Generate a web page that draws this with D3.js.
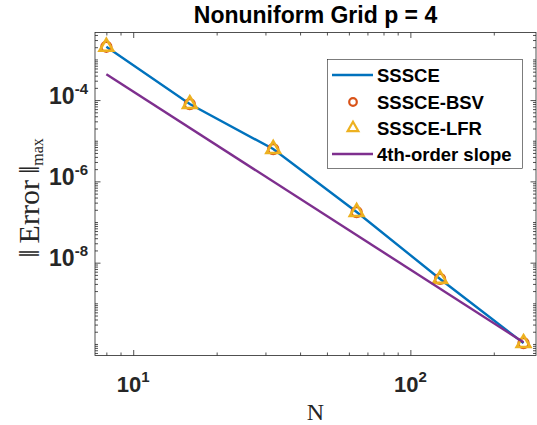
<!DOCTYPE html>
<html>
<head>
<meta charset="utf-8">
<script src="https://cdn.jsdelivr.net/npm/d3@7"></script>
<style>
  body { margin: 0; background: #fff; }
  svg { display: block; }
</style>
</head>
<body>
<script>
// grid sizes and max errors
var nValues = [8, 16, 32, 64, 128, 256];
var sssceErr = [2.05e-3, 7.97e-5, 6.24e-6, 1.76e-7, 3.97e-9, 1.05e-10];
var bsvErr = [2.05e-3, 7.97e-5, 6.24e-6, 1.76e-7, 3.97e-9, 1.05e-10];
var lfrErr = [2.05e-3, 7.97e-5, 6.24e-6, 1.76e-7, 3.97e-9, 1.05e-10];
// reference slope line (two end points)
var slopeN = [8, 256];
var slopeErr = [4.3e-4, 1.1e-10];

var xTickValues = [10, 100];
var xTickExp = ["1", "2"];
var yTickValues = [1e-4, 1e-6, 1e-8];
var yTickExp = ["-4", "-6", "-8"];

var legendNames = ["SSSCE", "SSSCE-BSV", "SSSCE-LFR", "4th-order slope"];

var w = 537;
var h = 425;
const plot = {top: 32.5, bottom: 355.5, left: 95, right: 536};

const colors = {blue: "#0072BD", orange: "#D95319", yellow: "#EDB120", purple: "#7E2F8E", axis: "#262626"};
const sans = "Helvetica, Arial, 'Liberation Sans', sans-serif";
const serif = "'Times New Roman', 'Liberation Serif', serif";

var svg = d3.select("body")
            .append("svg")
            .attr("width", w)
            .attr("height", h);

var xScale = d3.scaleLog()
               .domain([7.28, 284])
               .range([plot.left, plot.right]);

var yScale = d3.scaleLog()
               .domain([5.2e-11, 4.6e-3])
               .range([plot.bottom, plot.top]);

// minor tick positions
var xMinor = [];
[1, 10, 100].forEach(function(d) {
  for (var k = 1; k <= 9; k++) {
    var v = k * d;
    if (v >= 7.28 && v <= 284 && xTickValues.indexOf(v) < 0) xMinor.push(v);
  }
});
var yMinor = [];
for (var e = -11; e <= -3; e++) {
  for (var k = 1; k <= 9; k++) {
    var v = k * Math.pow(10, e);
    var isMajor = (k === 1 && (e === -4 || e === -6 || e === -8));
    if (v >= 5.2e-11 && v <= 4.6e-3 && !isMajor) yMinor.push(v);
  }
}

// draws a set of inward ticks on one side
function addTicks(axisFn, scale, values, size, transform) {
  var g = svg.append("g")
             .attr("transform", transform)
             .call(axisFn(scale).tickValues(values).tickSize(-size).tickSizeOuter(0).tickFormat(""));
  g.select(".domain").remove();
  g.selectAll("line").attr("stroke", colors.axis).attr("stroke-width", 0.8);
}

addTicks(d3.axisBottom, xScale, xMinor, 3, "translate(0," + plot.bottom + ")");
addTicks(d3.axisBottom, xScale, xTickValues, 5.5, "translate(0," + plot.bottom + ")");
addTicks(d3.axisTop, xScale, xMinor, 3, "translate(0," + plot.top + ")");
addTicks(d3.axisTop, xScale, xTickValues, 5.5, "translate(0," + plot.top + ")");
addTicks(d3.axisLeft, yScale, yMinor, 3, "translate(" + plot.left + ",0)");
addTicks(d3.axisLeft, yScale, yTickValues, 5.5, "translate(" + plot.left + ",0)");
addTicks(d3.axisRight, yScale, yMinor, 3, "translate(" + plot.right + ",0)");
addTicks(d3.axisRight, yScale, yTickValues, 5.5, "translate(" + plot.right + ",0)");

// box around plot
svg.append("rect")
   .attr("x", plot.left)
   .attr("y", plot.top)
   .attr("width", plot.right - plot.left)
   .attr("height", plot.bottom - plot.top)
   .attr("fill", "none")
   .attr("stroke", colors.axis)
   .attr("stroke-width", 0.8);

// x tick labels
xTickValues.forEach(function(v, i) {
  var t = svg.append("text")
             .attr("x", xScale(v))
             .attr("y", 392)
             .attr("text-anchor", "middle")
             .attr("font-family", sans)
             .attr("font-weight", "bold")
             .attr("font-size", "22px")
             .attr("fill", colors.axis);
  t.append("tspan").text("10");
  t.append("tspan").attr("dy", -10).attr("font-size", "15px").text(xTickExp[i]);
});

// y tick labels
yTickValues.forEach(function(v, i) {
  var t = svg.append("text")
             .attr("x", 88)
             .attr("y", yScale(v) + 3.5)
             .attr("text-anchor", "end")
             .attr("font-family", sans)
             .attr("font-weight", "bold")
             .attr("font-size", "23px")
             .attr("fill", colors.axis);
  t.append("tspan").text("10");
  t.append("tspan").attr("dy", -10).attr("font-size", "15px").text(yTickExp[i]);
});

// line generator
var line = d3.line()
             .x(function(d) { return xScale(d[0]); })
             .y(function(d) { return yScale(d[1]); });

var sssceData = d3.zip(nValues, sssceErr);
var bsvData = d3.zip(nValues, bsvErr);
var lfrData = d3.zip(nValues, lfrErr);
var slopeData = d3.zip(slopeN, slopeErr);

svg.append("path")
   .datum(sssceData)
   .attr("d", line)
   .attr("fill", "none")
   .attr("stroke", colors.blue)
   .attr("stroke-width", 2.4);

svg.selectAll(".bsv")
   .data(bsvData)
   .enter()
   .append("circle")
   .attr("class", "bsv")
   .attr("cx", function(d) { return xScale(d[0]); })
   .attr("cy", function(d) { return yScale(d[1]); })
   .attr("r", 5)
   .attr("fill", "none")
   .attr("stroke", colors.orange)
   .attr("stroke-width", 2.3);

var tri = d3.symbol().type(d3.symbolTriangle).size(80);

svg.selectAll(".lfr")
   .data(lfrData)
   .enter()
   .append("path")
   .attr("class", "lfr")
   .attr("d", tri)
   .attr("transform", function(d) { return "translate(" + xScale(d[0]) + "," + yScale(d[1]) + ")"; })
   .attr("fill", "none")
   .attr("stroke", colors.yellow)
   .attr("stroke-width", 2.6);

svg.append("path")
   .datum(slopeData)
   .attr("d", line)
   .attr("fill", "none")
   .attr("stroke", colors.purple)
   .attr("stroke-width", 2.4);

// legend
var legend = svg.append("g");
legend.append("rect")
      .attr("x", 327.5)
      .attr("y", 59.5)
      .attr("width", 195)
      .attr("height", 109)
      .attr("fill", "#fff")
      .attr("stroke", colors.axis)
      .attr("stroke-width", 0.6);

var rowY = [75, 102, 128, 154];
legendNames.forEach(function(name, i) {
  var y = rowY[i];
  if (i === 0 || i === 3) {
    legend.append("line")
          .attr("x1", 332).attr("x2", 373)
          .attr("y1", y).attr("y2", y)
          .attr("stroke", i === 0 ? colors.blue : colors.purple)
          .attr("stroke-width", 2.4);
  } else if (i === 1) {
    legend.append("circle")
          .attr("cx", 353).attr("cy", y).attr("r", 3.8)
          .attr("fill", "none")
          .attr("stroke", colors.orange)
          .attr("stroke-width", 2.2);
  } else {
    legend.append("path")
          .attr("d", d3.symbol().type(d3.symbolTriangle).size(50))
          .attr("transform", "translate(353," + y + ")")
          .attr("fill", "none")
          .attr("stroke", colors.yellow)
          .attr("stroke-width", 2.2);
  }
  legend.append("text")
        .attr("x", 377)
        .attr("y", y + 6.5)
        .attr("font-family", sans)
        .attr("font-weight", "bold")
        .attr("font-size", "18.5px")
        .attr("fill", "#000")
        .text(name);
});

// title
svg.append("text")
   .attr("x", (plot.left + plot.right) / 2)
   .attr("y", 23)
   .attr("text-anchor", "middle")
   .attr("font-family", sans)
   .attr("font-weight", "bold")
   .attr("font-size", "23px")
   .attr("fill", "#000")
   .text("Nonuniform Grid p = 4");

// x axis label
svg.append("text")
   .attr("x", (plot.left + plot.right) / 2)
   .attr("y", 420)
   .attr("text-anchor", "middle")
   .attr("font-family", serif)
   .attr("font-size", "24px")
   .attr("fill", colors.axis)
   .text("N");

// y axis label
var yLabel = svg.append("text")
                .attr("transform", "translate(39,198) rotate(-90)")
                .attr("text-anchor", "middle")
                .attr("font-family", serif)
                .attr("font-size", "30px")
                .attr("fill", colors.axis);
yLabel.append("tspan").text("\u2016\u2009Error\u2009\u2016");
yLabel.append("tspan").attr("dy", 4).attr("font-size", "16px").text("max");
</script>
</body>
</html>
